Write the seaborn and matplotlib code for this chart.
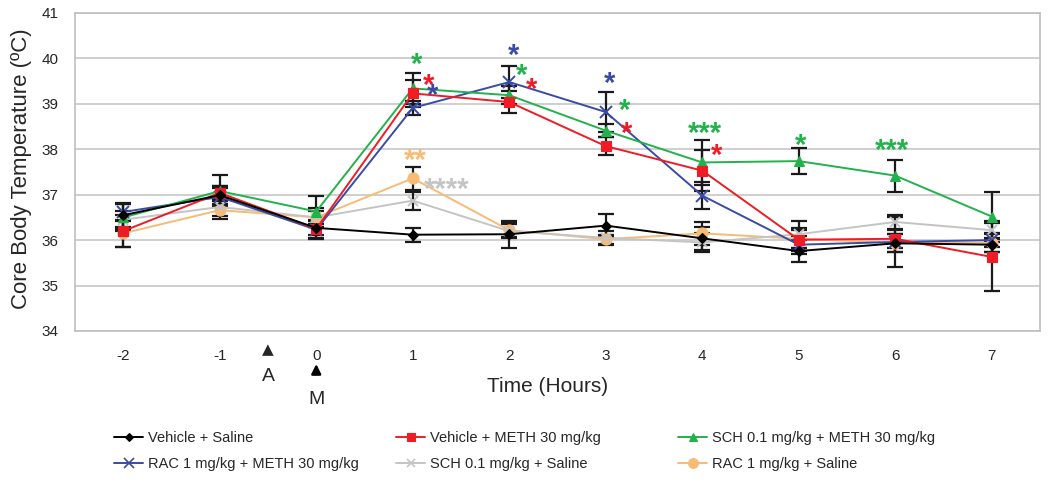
import numpy as np
import pandas as pd
import matplotlib
matplotlib.use("Agg")
import matplotlib.pyplot as plt
import seaborn as sns
from matplotlib.lines import Line2D

# ---------------- data ----------------
times = [-2, -1, 0, 1, 2, 3, 4, 5, 6, 7]
tick_labels = ["-2", "-1", "0", "1", "2", "3", "4", "5", "6", "7"]

series_names = [
    "Vehicle + Saline",
    "Vehicle + METH 30 mg/kg",
    "SCH 0.1 mg/kg + METH 30 mg/kg",
    "RAC 1 mg/kg + METH 30 mg/kg",
    "SCH 0.1 mg/kg + Saline",
    "RAC 1 mg/kg + Saline",
]

veh_sal = [36.55, 36.99, 36.27, 36.12, 36.13, 36.32, 36.04, 35.76, 35.93, 35.90]
veh_meth = [36.20, 37.04, 36.25, 39.23, 39.04, 38.07, 37.53, 36.01, 36.03, 35.63]
sch_meth = [36.50, 37.08, 36.63, 39.34, 39.19, 38.41, 37.71, 37.74, 37.42, 36.52]
rac_meth = [36.62, 36.95, 36.23, 38.91, 39.48, 38.82, 36.98, 35.90, 35.96, 36.00]
sch_sal = [36.45, 36.73, 36.50, 36.87, 36.20, 36.05, 35.95, 36.13, 36.40, 36.22]
rac_sal = [36.15, 36.66, 36.50, 37.36, 36.22, 36.02, 36.15, 36.03, 35.94, 35.94]

sem_veh_sal = [0.25, 0.20, 0.15, 0.15, 0.30, 0.25, 0.25, 0.25, 0.20, 0.15]
sem_veh_meth = [0.35, 0.15, 0.20, 0.30, 0.25, 0.20, 0.45, 0.25, 0.20, 0.75]
sem_sch_meth = [0.30, 0.35, 0.35, 0.35, 0.20, 0.15, 0.50, 0.28, 0.35, 0.55]
sem_rac_meth = [0.20, 0.20, 0.20, 0.15, 0.35, 0.45, 0.30, 0.20, 0.55, 0.15]
sem_sch_sal = [0.20, 0.20, 0.20, 0.20, 0.15, 0.15, 0.20, 0.30, 0.15, 0.20]
sem_rac_sal = [0.30, 0.20, 0.15, 0.25, 0.15, 0.10, 0.25, 0.20, 0.20, 0.20]

# significance marks: (text, colour index, x, y)
star_text = ["*", "*", "*", "**", "****", "*", "*", "*", "*", "*", "*", "***", "*", "*", "***"]
star_series = [2, 1, 3, 5, 4, 3, 2, 1, 3, 2, 1, 2, 1, 2, 2]
star_x = [1.04, 1.16, 1.21, 1.03, 1.35, 2.04, 2.13, 2.23, 3.04, 3.19, 3.22, 4.03, 4.15, 5.02, 5.97]
star_y = [40.05, 39.57, 39.36, 37.92, 37.30, 40.24, 39.80, 39.48, 39.62, 39.02, 38.52, 38.52, 38.03, 38.26, 38.15]

colors = ["#000000", "#ee1c25", "#22b24c", "#3a4ba6", "#c4c4c4", "#f8bb74"]
markers = ["D", "s", "^", "x", "x", "o"]
msizes = [5, 7, 7, 8, 7, 8]

means = [veh_sal, veh_meth, sch_meth, rac_meth, sch_sal, rac_sal]
sems = [sem_veh_sal, sem_veh_meth, sem_sch_meth, sem_rac_meth, sem_sch_sal, sem_rac_sal]

# ---------------- figure ----------------
sns.set_style("white")
plt.rcParams["font.family"] = ["Liberation Sans", "DejaVu Sans"]

fig = plt.figure(figsize=(10.5, 4.92), dpi=100)
ax = fig.add_axes([75 / 1050, 1 - 331 / 492, 965 / 1050, 318 / 492])

# error bars first (black)
for m, s in zip(means, sems):
    ax.errorbar(times, m, yerr=s, fmt="none", ecolor="#1a1a1a", elinewidth=1.6,
                capsize=5.5, capthick=1.6, zorder=2)

draw_order = [5, 4, 3, 2, 1, 0]
for i in draw_order:
    df = pd.DataFrame({"t": times, "v": means[i]})
    sns.lineplot(data=df, x="t", y="v", ax=ax, color=colors[i], linewidth=1.4,
                 marker=markers[i], markersize=msizes[i], markeredgecolor=colors[i],
                 markeredgewidth=1.4 if markers[i] == "x" else 0.8, zorder=3 + (6 - i) * 0.01)

for t, si, x, y in zip(star_text, star_series, star_x, star_y):
    ax.text(x, y - 0.36, t, color=colors[si], fontsize=21, fontweight="bold",
            ha="center", va="baseline", zorder=5)

# axes styling
ax.set_xlim(-2.5, 7.5)
ax.set_ylim(34, 41)
ax.set_xticks(times)
ax.set_xticklabels(tick_labels, fontsize=11)
ax.set_xticks(np.arange(-2.5, 7.6, 0.5), minor=True)
ax.set_yticks(range(34, 42))
ax.set_yticklabels([str(v) for v in range(34, 42)], fontsize=11)
ax.yaxis.grid(True, color="#cccccc", linewidth=1.3)
ax.xaxis.grid(False)
for sp in ax.spines.values():
    sp.set_color("#bfbfbf")
    sp.set_linewidth(1.2)
ax.tick_params(axis="x", which="both", direction="out", length=5, color="#bfbfbf", width=1.2, pad=8)
ax.tick_params(axis="y", direction="out", length=6, color="#bfbfbf", width=1.2, pad=6)
ax.tick_params(axis="x", which="minor", length=5)

ax.set_xlabel("Time (Hours)", fontsize=15)
ax.xaxis.set_label_coords(0.49, -0.145)
ax.set_ylabel("Core Body Temperature (ºC)", fontsize=16)
ax.yaxis.set_label_coords(-0.045, 0.51)

# A / M markers
tr = ax.get_xaxis_transform()
ax.text(-0.5, -0.035, "▲", transform=tr, ha="center", va="top", fontsize=11,
        family=["DejaVu Sans"], clip_on=False)
ax.text(-0.5, -0.115, "A", transform=tr, ha="center", va="top", fontsize=14, clip_on=False)
ax.annotate("", xy=(0, -0.095), xytext=(0, -0.145), xycoords=tr, textcoords=tr,
            arrowprops=dict(arrowstyle="-|>", color="black", lw=1.8, mutation_scale=14),
            annotation_clip=False)
ax.text(0, -0.19, "M", transform=tr, ha="center", va="top", fontsize=14, clip_on=False)

# legend: three columns of two entries each
handles = [Line2D([], [], color=colors[i], marker=markers[i], markersize=msizes[i] - 1,
                  markeredgecolor=colors[i], linewidth=1.4,
                  markeredgewidth=1.2 if markers[i] == "x" else 0.8) for i in range(6)]
col_x = [114, 396, 678]
col_items = [[0, 3], [1, 4], [2, 5]]
for cx, items in zip(col_x, col_items):
    fig.legend([handles[k] for k in items], [series_names[k] for k in items],
               loc="upper left", bbox_to_anchor=(cx / 1050, 1 - 431 / 492),
               frameon=False, handlelength=2.0, handletextpad=0.3,
               labelspacing=0.85, borderpad=0, borderaxespad=0,
               prop={"family": ["Liberation Sans"], "size": 10.5})

fig.savefig("out.png", dpi=100, facecolor="white")
